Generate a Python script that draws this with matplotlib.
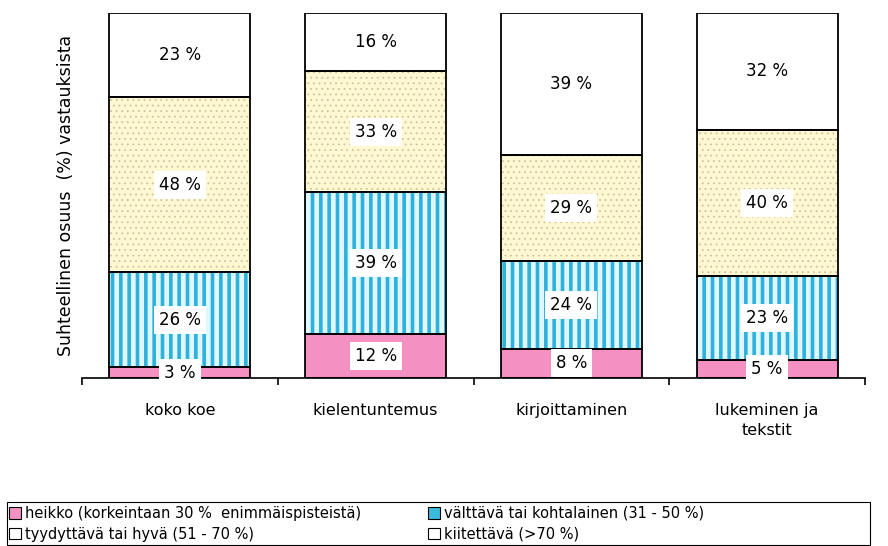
import numpy as np
import matplotlib
matplotlib.use("Agg")
from matplotlib import pyplot as plt
from matplotlib.patches import Patch, Rectangle

plt.rcParams['font.family'] = ['DejaVu Sans']

categories = ["koko koe", "kielentuntemus", "kirjoittaminen", "lukeminen ja\ntekstit"]
heikko = [3, 12, 8, 5]
valttava = [26, 39, 24, 23]
tyydyttava = [48, 33, 29, 40]
kiitettava = [23, 16, 39, 32]

series_names = ["heikko (korkeintaan 30 %  enimmäispisteistä)",
                "välttävä tai kohtalainen (31 - 50 %)",
                "tyydyttävä tai hyvä (51 - 70 %)",
                "kiitettävä (>70 %)"]
series = [heikko, valttava, tyydyttava, kiitettava]
faces = ["#f590c2", "#dff7ff", "#fff8d2", "#ffffff"]
hatches = [None, "||", "...", None]
hatch_cols = [None, "#2cb2dc", "#cfc39a", None]
hatch_lw = [1.0, 2.6, 0.6, 1.0]
legend_faces = ["#f590c2", "#3cbcdc", "#ffffff", "#ffffff"]

fig = plt.figure(figsize=(8.88, 5.46), dpi=100)
ax = fig.add_axes([82 / 888, 1 - 378 / 546, 783 / 888, 365 / 546])

x = np.arange(len(categories))
width = 0.72
bottom = np.zeros(len(categories))
for vals, fc, h, hc, hl in zip(series, faces, hatches, hatch_cols, hatch_lw):
    vals = np.array(vals)
    plt.rcParams['hatch.linewidth'] = hl
    if h:
        ax.bar(x, vals, width, bottom=bottom, color=fc, hatch=h,
               edgecolor=hc, linewidth=0, zorder=2)
    else:
        ax.bar(x, vals, width, bottom=bottom, color=fc, linewidth=0, zorder=2)
    ax.bar(x, vals, width, bottom=bottom, fill=False, edgecolor="black",
           linewidth=1.3, zorder=3)
    for xi, b, v in zip(x, bottom, vals):
        ax.text(xi, b + v / 2, f"{v} %", ha="center", va="center", fontsize=12,
                zorder=4,
                bbox=dict(boxstyle="square,pad=0.3", fc="white", ec="none"))
    bottom += vals

ax.set_xlim(-0.5, len(categories) - 0.5)
ax.set_ylim(0, 100)
ax.set_yticks([])
for s in ["left", "top", "right"]:
    ax.spines[s].set_visible(False)
ax.spines["bottom"].set_linewidth(1.2)
ax.set_xticks(x)
ax.set_xticklabels(categories, fontsize=11.5, linespacing=1.4)
ax.tick_params(axis="x", which="major", length=0, pad=18)
ax.set_xticks(np.arange(-0.5, len(categories)), minor=True)
ax.tick_params(axis="x", which="minor", length=5, width=1.2, direction="out")
ax.set_ylabel("Suhteellinen osuus  (%) vastauksista", fontsize=12.5, labelpad=5)

# legend box
fig.patches.append(Rectangle((7 / 888, 1 / 546), 863 / 888, 43 / 546,
                             transform=fig.transFigure, fill=False,
                             edgecolor="black", linewidth=0.8))

handles = [Patch(facecolor=c, edgecolor="black", linewidth=0.8) for c in legend_faces]
order = [0, 2, 1, 3]
leg = fig.legend([handles[i] for i in order], [series_names[i] for i in order],
                 ncol=2, loc="upper left",
                 bbox_to_anchor=(9 / 888, 1 - 506 / 546),
                 fontsize=10.5, frameon=False,
                 handlelength=0.8, handleheight=0.8, handletextpad=0.3,
                 columnspacing=4.6, borderpad=0.0, labelspacing=0.4,
                 borderaxespad=0)

fig.savefig("out.png", dpi=100)
